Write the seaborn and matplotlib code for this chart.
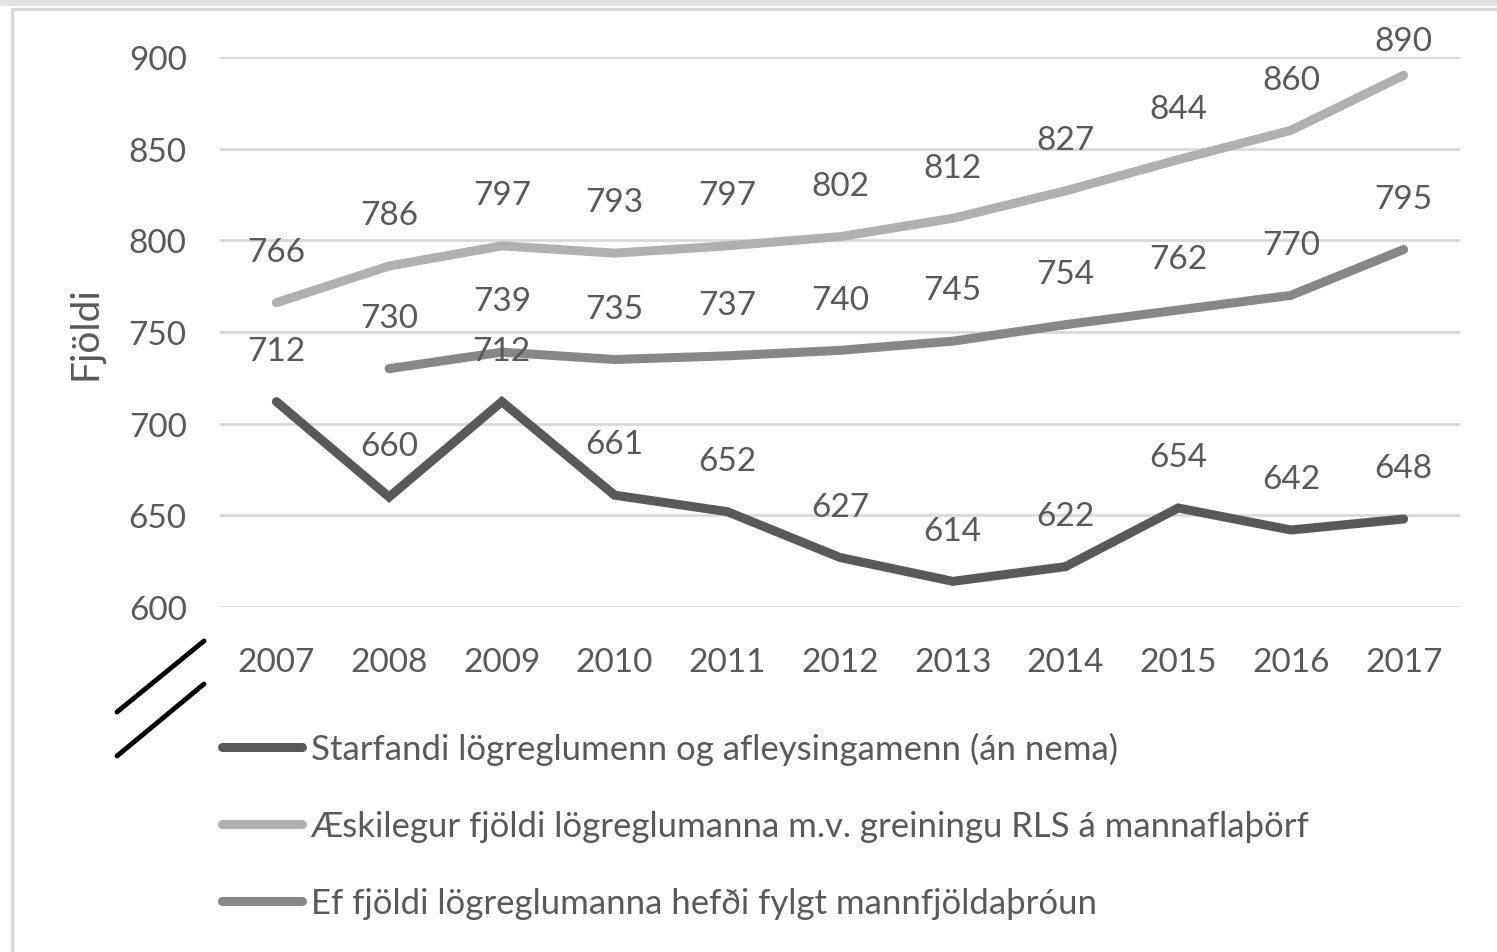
import pandas as pd
import numpy as np
import matplotlib
matplotlib.use("Agg")
import matplotlib.pyplot as plt
import seaborn as sns
from matplotlib.lines import Line2D
from matplotlib.patches import Rectangle

# Gögn
ar = [2007, 2008, 2009, 2010, 2011, 2012, 2013, 2014, 2015, 2016, 2017]
starfandi = [712, 660, 712, 661, 652, 627, 614, 622, 654, 642, 648]
aeskilegur = [766, 786, 797, 793, 797, 802, 812, 827, 844, 860, 890]
mannfjoldi = [np.nan, 730, 739, 735, 737, 740, 745, 754, 762, 770, 795]

heiti = [
    "Starfandi lögreglumenn og afleysingamenn (án nema)",
    "Æskilegur fjöldi lögreglumanna m.v. greiningu RLS á mannaflaþörf",
    "Ef fjöldi lögreglumanna hefði fylgt mannfjöldaþróun",
]
litir = ["#595959", "#b0b0b0", "#878787"]

df = pd.DataFrame({"Ár": ar, heiti[0]: starfandi, heiti[1]: aeskilegur, heiti[2]: mannfjoldi})
long_df = df.melt(id_vars="Ár", var_name="Röð", value_name="Fjöldi")

sns.set_style("white")
plt.rcParams["font.family"] = ["Lato", "DejaVu Sans"]
texti = "#595959"

fig = plt.figure(figsize=(14.97, 9.53), dpi=100)
ax = fig.add_axes([220 / 1497, 1 - 608 / 953, 1240 / 1497, 550 / 953])

sns.lineplot(data=long_df, x="Ár", y="Fjöldi", hue="Röð", hue_order=heiti,
             palette=litir, linewidth=6.5, ax=ax, legend=False)
for line in ax.lines:
    line.set_solid_capstyle("round")
    line.set_solid_joinstyle("miter")

# Gildismerki (efsta merkið ýtt niður svo það haldist innan ramma)
for gildi in [starfandi, aeskilegur, mannfjoldi]:
    for x, y in zip(ar, gildi):
        if np.isnan(y):
            continue
        off = 36.5 if y < 880 else 25
        ax.annotate(f"{int(y)}", (x, y), xytext=(0, off), textcoords="offset points",
                    ha="center", va="center", fontsize=24, color=texti)

ax.set_xlim(2006.5, 2017.5)
ax.set_ylim(600, 900)
ax.set_yticks(range(600, 901, 50))
ax.set_xticks(ar)
ax.grid(axis="y", color="#d9d9d9", linewidth=2)
ax.set_axisbelow(True)
for s in ax.spines.values():
    s.set_visible(False)
ax.tick_params(axis="both", length=0, labelsize=24, labelcolor=texti)
ax.tick_params(axis="y", pad=24)
ax.tick_params(axis="x", pad=29)
ax.set_xlabel("")
ax.set_ylabel("Fjöldi", fontsize=28, color=texti)
ax.yaxis.set_label_coords(-0.094, 0.5)

handles = [Line2D([0], [0], color=c, linewidth=6.5, solid_capstyle="round") for c in litir]
fig.legend(handles, heiti, loc="upper left", bbox_to_anchor=(222 / 1497, 1 - 733 / 953),
           frameon=False, fontsize=25, handlelength=2.3, handletextpad=0.25,
           labelspacing=1.3, borderpad=0, borderaxespad=0, labelcolor=texti)

# Brotmerki á ási
fig.add_artist(Line2D([117 / 1497, 204 / 1497], [1 - 713 / 953, 1 - 642 / 953],
                      transform=fig.transFigure, color="black", linewidth=3.5))
fig.add_artist(Line2D([117 / 1497, 204 / 1497], [1 - 757 / 953, 1 - 685 / 953],
                      transform=fig.transFigure, color="black", linewidth=3.5))

# Rammi
fig.add_artist(Rectangle((0, 1 - 7 / 953), 1, 7 / 953, transform=fig.transFigure,
                         facecolor="#e3e3e3", edgecolor="none"))
fig.add_artist(Rectangle((12 / 1497, -0.05), 1.1, 1.05 - 10 / 953, transform=fig.transFigure,
                         facecolor="none", edgecolor="#d9d9d9", linewidth=2.5))

fig.savefig("out.png", dpi=100)
